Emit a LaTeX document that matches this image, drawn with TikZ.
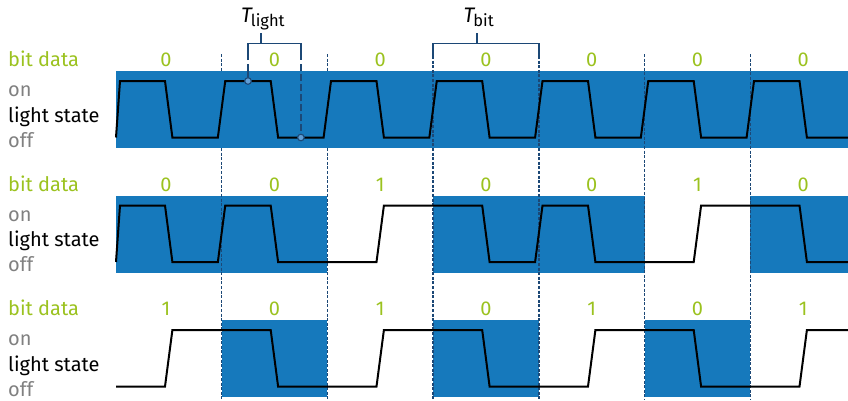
\documentclass[tikz,border=0pt]{standalone}
\usepackage{fontspec}
\setmainfont{Fira Sans}

\definecolor{bandblue}{RGB}{22,121,188}
\definecolor{markblue}{RGB}{28,72,118}
\definecolor{dotblue}{RGB}{95,158,214}
\definecolor{bitgreen}{RGB}{155,194,31}
\definecolor{stategray}{RGB}{128,128,128}

\tikzset{
  band/.style={fill=bandblue},
  boundary/.style={markblue, line width=1.6pt, dash pattern=on 3pt off 1.6pt},
  signal/.style={black, line width=2pt, line join=miter},
  brace/.style={markblue, line width=1.6pt},
  probe/.style={fill=dotblue, draw=markblue, line width=1.1pt},
  lbl/.style={font=\fontsize{20}{20}\selectfont, inner sep=0pt},
  bitlbl/.style={lbl, text=bitgreen, anchor=base},
  rowlbl/.style={lbl, anchor=base west},
}

\begin{document}
\begin{tikzpicture}[x=1pt,y=-1pt]
\useasboundingbox (0,0) rectangle (848,400);

% bands marking the bits that are 0
\fill[band] (115.8,71) rectangle (848,148);
\fill[band] (115.8,195.5) rectangle (327.3,272.5);
\fill[band] (433.05,195.5) rectangle (644.55,272.5);
\fill[band] (750.3,195.5) rectangle (848,272.5);
\fill[band] (221.55,320) rectangle (327.3,397);
\fill[band] (433.05,320) rectangle (538.8,397);
\fill[band] (644.55,320) rectangle (750.3,397);

% bit boundaries
\foreach \x in {221.55,327.3} {
  \draw[boundary] (\x,54) -- (\x,71);
  \draw[boundary] (\x,148) -- (\x,400);
}
\foreach \x in {433.05,538.8} \draw[boundary] (\x,56) -- (\x,400);
\foreach \x in {644.55,750.3} \draw[boundary] (\x,54) -- (\x,400);

% light state, row 1: 0 0 0 0 0 0 0
\draw[signal] (116,137.5) -- (120,81) -- (165,81) -- (172.4,137.5)
  -- (217.85,137.5) -- (225.25,81) -- (270.7,81) -- (278.1,137.5)
  -- (323.6,137.5) -- (331,81) -- (376.5,81) -- (383.9,137.5)
  -- (429.35,137.5) -- (436.75,81) -- (482.2,81) -- (489.6,137.5)
  -- (535.1,137.5) -- (542.5,81) -- (588,81) -- (595.4,137.5)
  -- (640.85,137.5) -- (648.25,81) -- (693.7,81) -- (701.1,137.5)
  -- (746.6,137.5) -- (754,81) -- (799.5,81) -- (806.9,137.5)
  -- (848,137.5);

% light state, row 2: 0 0 1 0 0 1 0
\draw[signal] (116,262) -- (120,205.5) -- (165,205.5) -- (172.4,262)
  -- (217.85,262) -- (225.25,205.5) -- (270.7,205.5) -- (278.1,262)
  -- (376.5,262) -- (383.9,205.5)
  -- (482.2,205.5) -- (489.6,262)
  -- (535.1,262) -- (542.5,205.5) -- (588,205.5) -- (595.4,262)
  -- (693.7,262) -- (701.1,205.5)
  -- (799.5,205.5) -- (806.9,262) -- (848,262);

% light state, row 3: 1 0 1 0 1 0 1
\draw[signal] (116,386.5) -- (165,386.5) -- (172.4,330)
  -- (270.7,330) -- (278.1,386.5)
  -- (376.5,386.5) -- (383.9,330)
  -- (482.2,330) -- (489.6,386.5)
  -- (588,386.5) -- (595.4,330)
  -- (693.7,330) -- (701.1,386.5)
  -- (799.5,386.5) -- (806.9,330) -- (848,330);

% T_light bracket with its two sample points
\draw[brace] (248,60) -- (248,43.3) -- (300.9,43.3) -- (300.9,60);
\draw[brace] (261,43.3) -- (261,33);
\draw[brace] (248,64) -- (248,81);
\draw[brace, dash pattern=on 7pt off 3pt] (300.9,64) -- (300.9,137.5);
\filldraw[probe] (248,81) circle[radius=3.3];
\filldraw[probe] (300.9,137.5) circle[radius=3.3];

% T_bit bracket
\draw[brace] (433.05,56) -- (433.05,43.3) -- (538.8,43.3) -- (538.8,56);
\draw[brace] (477,43.3) -- (477,33);

\node[anchor=base west, inner sep=0pt] (tlight) at (241,22.7)
  {\fontsize{21}{21}\selectfont\itshape T\kern-1pt\raisebox{-4pt}{\upshape\fontsize{16.5}{16.5}\selectfont light}};
\node[anchor=base west, inner sep=0pt] (tbit) at (463.5,22.7)
  {\fontsize{21}{21}\selectfont\itshape T\kern-1pt\raisebox{-4pt}{\upshape\fontsize{16.5}{16.5}\selectfont bit}};

% row captions
\foreach \r in {1,2,3} {
  \pgfmathsetmacro{\o}{(\r-1)*124.5}
  \node[rowlbl, text=bitgreen] (bitdata\r) at (8,{66.7+\o}) {bit data};
  \node[rowlbl, text=stategray] (on\r) at (8,{96.5+\o}) {on};
  \node[rowlbl] (state\r) at (8,{122+\o}) {light state};
  \node[rowlbl, text=stategray] (off\r) at (8,{147+\o}) {off};
}

% bit values
\foreach \x/\b [count=\i] in {166/0,274.4/0,380.2/0,485.9/0,591.7/0,697.4/0,803.2/0}
  \node[bitlbl] (bitA\i) at (\x,66.7) {\b};
\foreach \x/\b [count=\i] in {166/0,274.4/0,380.2/1,485.9/0,591.7/0,697.4/1,803.2/0}
  \node[bitlbl] (bitB\i) at (\x,191.2) {\b};
\foreach \x/\b [count=\i] in {166/1,274.4/0,380.2/1,485.9/0,591.7/1,697.4/0,803.2/1}
  \node[bitlbl] (bitC\i) at (\x,315.7) {\b};
\end{tikzpicture}
\end{document}
